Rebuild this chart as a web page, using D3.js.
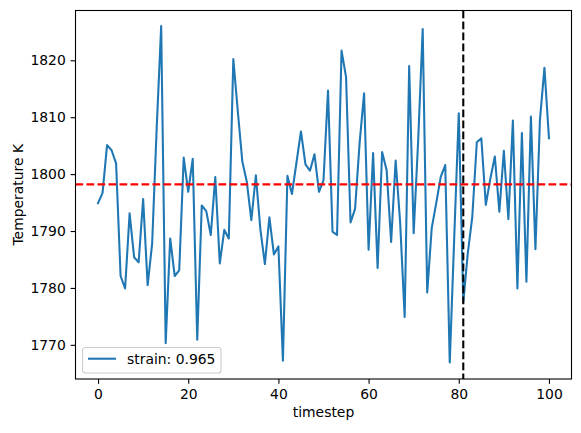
<!DOCTYPE html>
<meta charset="utf-8">
<style>

body {
  margin: 0;
  background: #fff;
}

text {
  font-family: "DejaVu Sans", sans-serif;
  font-size: 13.9px;
  fill: #000;
}

.series {
  fill: none;
  stroke: #1f77b4;
  stroke-width: 2.08px;
  stroke-linejoin: round;
  stroke-linecap: square;
}

.mean {
  stroke: #ff0000;
  stroke-width: 2.08px;
  stroke-dasharray: 7.7 3.3;
}

.marker {
  stroke: #000;
  stroke-width: 2.08px;
  stroke-dasharray: 7.7 3.3;
}

.axis path,
.axis line {
  stroke: #000;
  stroke-width: 1.1px;
}

</style>
<svg width="581" height="433"></svg>
<script src="https://cdn.jsdelivr.net/npm/d3@7"></script>
<script>

// temperature per timestep
var temperature = [
  1794.9, 1796.7, 1805.1, 1804.2, 1801.9, 1782.1, 1779.9, 1793.1, 1785.4, 1784.5,
  1795.6, 1780.5, 1787.8, 1808.0, 1826.0, 1770.3, 1788.7, 1782.1, 1783.1, 1802.9,
  1796.9, 1802.7, 1770.9, 1794.5, 1793.5, 1789.3, 1799.5, 1784.3, 1790.2, 1788.7,
  1820.2, 1811.0, 1802.2, 1798.6, 1791.9, 1799.8, 1790.3, 1784.2, 1792.4, 1785.9,
  1787.3, 1767.2, 1799.7, 1796.5, 1802.0, 1807.5, 1801.7, 1800.6, 1803.5, 1796.9,
  1798.9, 1814.7, 1789.9, 1789.3, 1821.7, 1817.1, 1791.5, 1793.9, 1805.4, 1814.2,
  1786.7, 1803.7, 1783.5, 1803.9, 1800.7, 1788.1, 1802.4, 1791.5, 1774.9, 1819.0,
  1789.6, 1806.0, 1825.5, 1779.2, 1790.5, 1794.9, 1799.5, 1801.6, 1766.9, 1789.0,
  1810.7, 1777.5, 1786.1, 1792.5, 1805.6, 1806.3, 1794.6, 1799.2, 1803.1, 1793.4,
  1804.1, 1792.1, 1809.4, 1779.9, 1807.2, 1781.1, 1810.1, 1786.8, 1809.5, 1818.7,
  1806.3
];
var timesteps = d3.range(temperature.length);

var meanTemp = 1798.2,
    markerStep = 81,
    legendLabel = "strain: 0.965";

var xTicks = [0, 20, 40, 60, 80, 100],
    yTicks = [1770, 1780, 1790, 1800, 1810, 1820];

var svg = d3.select("svg"),
    axLeft = 75.5, axRight = 571.5, axTop = 10.5, axBottom = 379;

var x = d3.scaleLinear().domain([-5, 105]).range([axLeft, axRight]);
var y = d3.scaleLinear().domain([1764.0, 1828.75]).range([axBottom, axTop]);

svg.append("clipPath")
    .attr("id", "clip")
  .append("rect")
    .attr("x", axLeft)
    .attr("y", axTop)
    .attr("width", axRight - axLeft)
    .attr("height", axBottom - axTop);

var plot = svg.append("g").attr("clip-path", "url(#clip)");

var line = d3.line()
    .x(function(d, i) { return x(timesteps[i]); })
    .y(function(d) { return y(d); });

plot.append("path")
    .datum(temperature)
    .attr("class", "series")
    .attr("d", line);

plot.append("line")
    .attr("class", "mean")
    .attr("x1", axLeft).attr("x2", axRight)
    .attr("y1", y(meanTemp)).attr("y2", y(meanTemp));

plot.append("line")
    .attr("class", "marker")
    .attr("x1", x(markerStep)).attr("x2", x(markerStep))
    .attr("y1", axTop).attr("y2", axBottom);

// axes
svg.append("g")
    .attr("class", "axis")
    .attr("transform", "translate(0," + axBottom + ")")
    .call(d3.axisBottom(x).tickValues(xTicks).tickFormat(d3.format("d"))
      .tickSize(4.86).tickPadding(4.86));

svg.append("g")
    .attr("class", "axis")
    .attr("transform", "translate(" + axLeft + ",0)")
    .call(d3.axisLeft(y).tickValues(yTicks).tickFormat(d3.format("d"))
      .tickSize(4.86).tickPadding(4.86));

svg.selectAll(".axis .domain").remove();
svg.selectAll(".axis text").attr("font-family", null).attr("font-size", null);

svg.append("rect")
    .attr("x", axLeft)
    .attr("y", axTop)
    .attr("width", axRight - axLeft)
    .attr("height", axBottom - axTop)
    .attr("fill", "none")
    .attr("stroke", "#000")
    .attr("stroke-width", 1.1);

svg.append("text")
    .attr("x", (axLeft + axRight) / 2)
    .attr("y", 417)
    .attr("text-anchor", "middle")
    .text("timestep");

svg.append("text")
    .attr("transform", "translate(23," + (axTop + axBottom) / 2 + ") rotate(-90)")
    .attr("text-anchor", "middle")
    .text("Temperature K");

// legend
var legend = svg.append("g").attr("transform", "translate(82.5,347.5)");

legend.append("rect")
    .attr("width", 138.5)
    .attr("height", 25.5)
    .attr("rx", 2.8)
    .attr("fill", "#fff")
    .attr("fill-opacity", 0.8)
    .attr("stroke", "#cccccc")
    .attr("stroke-width", 1.1);

legend.append("line")
    .attr("x1", 5.5).attr("x2", 33.5)
    .attr("y1", 11.2).attr("y2", 11.2)
    .attr("stroke", "#1f77b4")
    .attr("stroke-width", 2.08);

legend.append("text")
    .attr("x", 44.5)
    .attr("y", 16.2)
    .text(legendLabel);

</script>
